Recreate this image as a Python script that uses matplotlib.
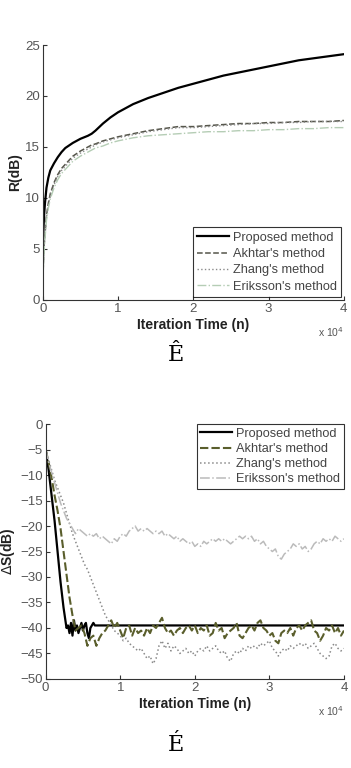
import numpy as np
import matplotlib
matplotlib.use('Agg')
import matplotlib.pyplot as plt

plt.rcParams['font.family'] = ['Liberation Sans', 'DejaVu Sans']

# ---- panel (a): R(dB) vs iteration ----
r_x = [0, 50, 100, 200, 300, 500, 750, 1000, 1500, 2000, 2500, 3000, 4000, 5000,
       6000, 6500, 7000, 8000, 9000, 10000, 12000, 14000, 16000, 18000, 20000,
       22000, 24000, 26000, 28000, 30000, 32000, 34000, 36000, 38000, 40000]
r_proposed = [2.0, 5.0, 7.0, 8.5, 9.5, 11.0, 12.0, 12.7, 13.4, 14.0, 14.5, 14.9, 15.4, 15.8,
              16.1, 16.3, 16.6, 17.3, 17.9, 18.4, 19.2, 19.8, 20.3, 20.8, 21.2,
              21.6, 22.0, 22.3, 22.6, 22.9, 23.2, 23.5, 23.7, 23.9, 24.1]
r_akhtar = [0.5, 2.5, 4.0, 5.5, 6.5, 8.3, 9.5, 10.4, 11.5, 12.3, 12.9, 13.3, 14.1, 14.6,
            15.0, 15.2, 15.3, 15.6, 15.8, 16.0, 16.3, 16.6, 16.8, 17.0, 17.0,
            17.1, 17.2, 17.3, 17.3, 17.4, 17.4, 17.5, 17.5, 17.5, 17.6]
r_zhang = [0.3, 2.3, 3.8, 5.3, 6.3, 8.1, 9.3, 10.2, 11.3, 12.1, 12.7, 13.1, 13.9, 14.4,
           14.8, 15.0, 15.2, 15.5, 15.7, 15.9, 16.2, 16.5, 16.7, 16.9, 16.9,
           17.0, 17.1, 17.2, 17.3, 17.3, 17.4, 17.4, 17.5, 17.5, 17.5]
r_eriksson = [0.1, 2.0, 3.5, 5.0, 6.0, 7.8, 9.0, 9.9, 11.0, 11.8, 12.4, 12.8, 13.6, 14.1,
              14.5, 14.7, 14.9, 15.1, 15.4, 15.6, 15.9, 16.1, 16.2, 16.3, 16.4,
              16.5, 16.5, 16.6, 16.6, 16.7, 16.7, 16.8, 16.8, 16.9, 16.9]

# ---- panel (b): delta S(dB) vs iteration ----
s_x = [400 * i for i in range(101)]
p_x = [0, 400, 800, 1200, 1600, 2000, 2400, 2800, 3000, 3200, 3400, 3600, 3800, 4000,
       4200, 4400, 4600, 4800, 5000, 5200, 5400, 5600, 5800, 6000, 6200, 6400, 6600, 40000]
s_proposed = [-5, -9, -14, -19, -25, -31, -36, -40, -39.5, -41, -39, -41.5, -38.5, -40.5,
              -39.5, -41, -40, -39, -40.5, -39.5, -39, -41, -42, -40, -39.5, -39, -39.5, -39.5]
s_akhtar = [-5, -7.5, -10.5, -14, -17, -20.5, -25, -29.5, -34, -37.5, -40.5, -40, -39.5, -41, -43.5,
            -42, -41.5, -43.5, -42, -41, -40.5, -39.5, -38.5, -40, -39, -40.5, -42, -40,
            -39.5, -41.5, -40, -41, -40.5, -41.5, -40, -41, -39.5, -40, -39, -38, -40, -41,
            -40.5, -41.5, -40.5, -40, -41, -40, -39.5, -40.5, -39.5, -41, -40, -40.5, -39.5,
            -41.5, -41, -39, -40.5, -40, -42, -41, -40.5, -40, -39, -41.5, -42, -41, -40,
            -39.5, -40.5, -39, -38.5, -40, -40.5, -41.5, -41, -42.5, -43, -41, -40.5, -41,
            -40, -41.5, -40, -39.5, -40.5, -39.5, -39, -38.5, -40.5, -41, -42.5, -41.5, -40,
            -40.5, -39.5, -41, -40, -41.5, -40.5]
s_zhang = [-5, -7, -9, -11, -12.5, -14, -15.5, -17.5, -19.5, -21.5, -23, -24.5, -26, -27.5,
           -28.5, -30, -31.5, -33, -34.5, -36, -37.5, -38.5, -39.5, -40.5, -41, -41.5, -42.5,
           -42, -43, -43.5, -44, -44.5, -44, -45, -46, -45.5, -47, -46, -43.5, -42.5, -44,
           -43, -44.5, -43.5, -44, -45, -44.5, -44, -45, -44.5, -45.5, -44.5, -44, -44.5,
           -43.5, -44.5, -44, -43.5, -44.5, -45, -44.5, -46, -46.5, -45, -44.5, -45, -44,
           -44.5, -43.5, -44, -43.5, -44, -43, -43.5, -43, -42.5, -44, -44.5, -45.5, -44.5,
           -44, -44.5, -43.5, -44, -43.5, -43, -43.5, -43, -44, -43.5, -43, -44, -45, -45.5,
           -46, -45.5, -43.5, -43, -44, -44.5, -44]
s_eriksson = [-5, -7.5, -9.5, -11.5, -13.5, -15.5, -17, -18.5, -19.5, -20.5, -21.5, -20.5, -21, -21.5,
              -22, -21.5, -22, -21.5, -22.5, -22, -22.5, -23, -23.5, -22.5, -23, -22, -21.5,
              -22, -21, -20.5, -20, -21, -20.5, -21, -20.5, -21, -21.5, -21, -21.5, -21, -22,
              -21.5, -22, -22.5, -22, -23, -22.5, -23, -23.5, -23, -24, -23.5, -24, -23,
              -23.5, -23, -22.5, -23, -22.5, -23, -22.5, -23, -23.5, -23, -22.5, -22, -22.5,
              -22, -22.5, -22, -23, -22.5, -23.5, -23, -24, -24.5, -25, -24.5, -26, -26.5,
              -25.5, -25, -24.5, -23.5, -24, -23.5, -24.5, -24, -25, -24.5, -23.5, -23, -23.5,
              -22.5, -23, -22.5, -23, -22, -22.5, -23, -22.5]

labels = ["Proposed method", "Akhtar's method", "Zhang's method", "Eriksson's method"]
x_ticks = [0, 10000, 20000, 30000, 40000]
x_ticklabels = ['0', '1', '2', '3', '4']


def style_axes(ax, ylabel):
    ax.spines['top'].set_visible(False)
    ax.spines['right'].set_visible(False)
    for s in ('left', 'bottom'):
        ax.spines[s].set_color('#333333')
    ax.tick_params(direction='in', length=3, labelsize=9.5, labelcolor='#555555',
                   color='#333333', pad=2)
    ax.set_xlim(0, 40000)
    ax.set_xticks(x_ticks)
    ax.set_xticklabels(x_ticklabels)
    ax.set_xlabel('Iteration Time (n)', fontsize=10, fontweight='bold', labelpad=2,
                  color='#222222')
    ax.set_ylabel(ylabel, fontsize=10, fontweight='bold', labelpad=2, color='#222222')
    ax.text(1.0, -0.125, r'x 10$^4$', transform=ax.transAxes, ha='right', va='center',
            fontsize=7.5, color='#555555')


def style_legend(leg):
    leg.get_frame().set_edgecolor('black')
    leg.get_frame().set_linewidth(0.8)
    for t in leg.get_texts():
        t.set_color('#444444')


fig = plt.figure(figsize=(3.51, 7.68), dpi=100)

ax1 = fig.add_axes([0.1217, 0.6094, 0.858, 0.332])
ax1.plot(r_x, r_proposed, color='black', lw=1.6, label=labels[0])
ax1.plot(r_x, r_akhtar, color='#55554a', lw=1.1, ls='--', label=labels[1])
ax1.plot(r_x, r_zhang, color='#8a8a8a', lw=1.0, ls=':', label=labels[2])
ax1.plot(r_x, r_eriksson, color='#b5cdb5', lw=1.0, ls='-.', label=labels[3])
ax1.set_ylim(0, 25)
ax1.set_yticks([0, 5, 10, 15, 20, 25])
style_axes(ax1, 'R(dB)')
leg1 = ax1.legend(loc='lower right', fontsize=9.2, frameon=True, fancybox=False,
                  borderaxespad=0.2, handlelength=2.5, handletextpad=0.3,
                  labelspacing=0.35, borderpad=0.35)
style_legend(leg1)

ax2 = fig.add_axes([0.130, 0.1159, 0.850, 0.332])
ax2.plot(p_x, s_proposed, color='black', lw=1.6, label=labels[0])
ax2.plot(s_x, s_akhtar, color='#5a5e2c', lw=1.5, ls=(0, (4, 1.5)), label=labels[1])
ax2.plot(s_x, s_zhang, color='#8a8a8a', lw=1.1, ls=':', label=labels[2])
ax2.plot(s_x, s_eriksson, color='#bbbbbb', lw=1.1, ls='-.', label=labels[3])
ax2.set_ylim(-50, 0)
ax2.set_yticks(list(range(-50, 1, 5)))
style_axes(ax2, r'$\Delta$S(dB)')
leg2 = ax2.legend(loc='upper right', fontsize=9.2, frameon=True, fancybox=False,
                  borderaxespad=0.0, handlelength=2.5, handletextpad=0.3,
                  labelspacing=0.25, borderpad=0.3)
style_legend(leg2)

fig.text(0.5, 1 - 355 / 768, 'Ê', ha='center', va='center', fontsize=16, family='DejaVu Serif')
fig.text(0.5, 1 - 745 / 768, 'É', ha='center', va='center', fontsize=16, family='DejaVu Serif')

fig.savefig('out.png', dpi=100)
